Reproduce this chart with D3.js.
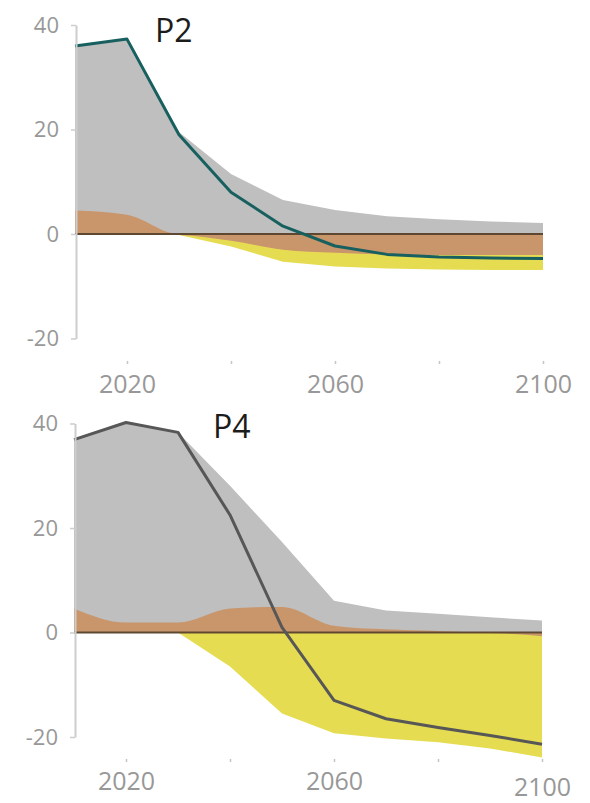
<!DOCTYPE html>
<html>
<head>
<meta charset="utf-8">
<script src="https://cdn.jsdelivr.net/npm/d3@7"></script>
<style>
  body { margin: 0; background: #fff; }
  svg text { font-family: "Open Sans", "Noto Sans", sans-serif; }
</style>
</head>
<body>
<svg id="chart" width="590" height="803"></svg>
<script>
// Emission components by decade (GtCO2/yr)
const years = [2010, 2020, 2030, 2040, 2050, 2060, 2070, 2080, 2090, 2100];

const p2Fossil = [31.5, 33.6, 19.5, 11.5, 6.5, 4.6, 3.4, 2.8, 2.4, 2.1];
const p2Afolu  = [4.5, 3.7, -0.2, -1.3, -3.0, -3.6, -3.9, -4.0, -4.0, -4.0];
const p2Beccs  = [0, 0, 0, -1.1, -2.3, -2.6, -2.7, -2.8, -2.9, -2.9];
const p2Net    = [36.0, 37.3, 19.0, 8.0, 1.5, -2.3, -3.9, -4.4, -4.6, -4.7];

const p4Fossil = [32.3, 38.3, 36.4, 23.5, 12.4, 4.8, 3.6, 3.3, 2.9, 2.3];
const p4Afolu  = [4.6, 1.9, 1.9, 4.6, 4.9, 1.3, 0.6, 0.3, -0.1, -0.7];
const p4Beccs  = [0, 0, 0, -6.5, -15.5, -19.3, -20.3, -21.0, -22.1, -23.2];
const p4Net    = [36.9, 40.2, 38.3, 22.5, 1.0, -13.0, -16.5, -18.2, -19.7, -21.4];

const yTickValues = [-20, 0, 20, 40];
const xTickValues = [2020, 2040, 2060, 2080, 2100];
const xLabelYears = [2020, 2060, 2100];
const panelTitles = ["P2", "P4"];

const colors = {
  fossil: "#bfbfbf",
  afolu: "#c9966c",
  beccs: "#e6dc52",
  zero: "#5e4832",
  axis: "#cdcdcd",
  tickText: "#989898",
  title: "#1c1c1c"
};

const svg = d3.select("#chart");

const panels = [
  { title: panelTitles[0], fossil: p2Fossil, afolu: p2Afolu, beccs: p2Beccs, net: p2Net,
    lineColor: "#17605f", xLeft: 75, yTop: 25, yBottom: 338.5, axisY: 361, labelBase: 32,
    titleX: 155, titleY: 42 },
  { title: panelTitles[1], fossil: p4Fossil, afolu: p4Afolu, beccs: p4Beccs, net: p4Net,
    lineColor: "#575757", xLeft: 74, yTop: 423.5, yBottom: 737, axisY: 759, labelBase: 31,
    titleX: 213, titleY: 438 }
];

panels.forEach((p, pi) => {
  const g = svg.append("g");

  const x = d3.scaleLinear().domain([2010, 2100]).range([p.xLeft, p.xLeft + 468]);
  const y = d3.scaleLinear().domain([-20, 40]).range([p.yBottom, p.yTop]);

  const rows = years.map((yr, i) => ({
    year: yr, afolu: p.afolu[i], fossil: p.fossil[i], beccs: p.beccs[i]
  }));
  const series = d3.stack()
    .keys(["afolu", "fossil", "beccs"])
    .offset(d3.stackOffsetDiverging)(rows);

  const posTop = rows.map((r, j) => d3.max(series, s => s[j][1]));
  const negBottom = rows.map((r, j) => d3.min(series, s => s[j][0]));

  // Positive envelope (fossil on top of positive land use)
  g.append("path")
    .attr("fill", colors.fossil)
    .attr("d", d3.area()
      .x(d => x(d.year))
      .y0(y(0))
      .y1((d, j) => y(posTop[j]))(rows));

  // Negative envelope (BECCS below negative land use)
  g.append("path")
    .attr("fill", colors.beccs)
    .attr("d", d3.area()
      .x(d => x(d.year))
      .y0(y(0))
      .y1((d, j) => y(negBottom[j]))(rows));

  // Land use band
  g.append("path")
    .attr("fill", colors.afolu)
    .attr("d", d3.area()
      .curve(d3.curveMonotoneX)
      .x(d => x(d.data.year))
      .y0(d => y(d[0]))
      .y1(d => y(d[1]))(series[0]));

  // Zero line
  g.append("line")
    .attr("x1", x(2010)).attr("x2", x(2100))
    .attr("y1", y(0)).attr("y2", y(0))
    .attr("stroke", colors.zero)
    .attr("stroke-width", 2);

  // Net emissions
  g.append("path")
    .attr("fill", "none")
    .attr("stroke", p.lineColor)
    .attr("stroke-width", 3)
    .attr("stroke-linejoin", "round")
    .attr("d", d3.line()
      .x((d, i) => x(years[i]))
      .y(d => y(d))(p.net));

  // Y axis
  const yAxis = g.append("g")
    .attr("transform", `translate(${p.xLeft + 1},0)`)
    .call(d3.axisLeft(y).tickValues(yTickValues).tickSize(5).tickSizeOuter(0).tickPadding(12)
      .tickFormat(d => String(d)));
  yAxis.select(".domain").attr("stroke", colors.axis).attr("stroke-width", 2);
  yAxis.selectAll(".tick line").attr("stroke", colors.axis).attr("stroke-width", 1.5);
  yAxis.selectAll(".tick text")
    .attr("fill", colors.tickText)
    .style("font-size", "22px");

  // X axis
  const xAxis = g.append("g")
    .attr("transform", `translate(0,${p.axisY})`)
    .call(d3.axisBottom(x).tickValues(xTickValues).tickSize(3).tickSizeOuter(0)
      .tickFormat(d => xLabelYears.includes(d) ? String(d) : ""));
  xAxis.select(".domain").remove();
  xAxis.selectAll(".tick line").attr("stroke", "#c4c4c4").attr("stroke-width", 1.5);
  xAxis.selectAll(".tick text")
    .attr("fill", colors.tickText)
    .attr("dy", null)
    .attr("y", d => p.labelBase + (pi === 1 && d === 2100 ? 6 : 0))
    .style("font-size", "25px");

  // Panel title
  g.append("text")
    .attr("x", p.titleX)
    .attr("y", p.titleY)
    .attr("fill", colors.title)
    .style("font-size", "32px")
    .text(p.title);
});
</script>
</body>
</html>
